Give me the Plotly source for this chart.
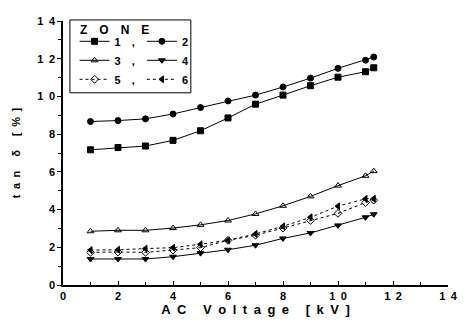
import plotly.graph_objects as go

voltage = [1, 2, 3, 4, 5, 6, 7, 8, 9, 10, 11, 11.3]
zone1 = [7.17, 7.29, 7.37, 7.67, 8.18, 8.86, 9.59, 10.07, 10.57, 11.02, 11.31, 11.52]
zone2 = [8.67, 8.72, 8.81, 9.07, 9.41, 9.76, 10.07, 10.50, 10.97, 11.49, 11.92, 12.09]
zone3 = [2.85, 2.90, 2.90, 3.02, 3.19, 3.42, 3.77, 4.20, 4.70, 5.27, 5.79, 6.04]
zone4 = [1.38, 1.38, 1.38, 1.50, 1.69, 1.87, 2.11, 2.47, 2.76, 3.16, 3.59, 3.75]
zone5 = [1.73, 1.75, 1.73, 1.85, 1.98, 2.37, 2.64, 3.02, 3.42, 3.80, 4.37, 4.50]
zone6 = [1.85, 1.87, 1.93, 1.98, 2.16, 2.37, 2.71, 3.11, 3.59, 4.18, 4.57, 4.58]

SP = "\u2002"
tick_vals = [0, 2, 4, 6, 8, 10, 12, 14]
tick_text = ["0", "2", "4", "6", "8", "1" + SP + "0", "1" + SP + "2", "1" + SP + "4"]


def spaced(s, sep=SP):
    return sep.join(list(s))


series = [
    ("1" + SP * 2 + ",", zone1, "square", "legend", "solid"),
    ("2", zone2, "circle", "legend2", "solid"),
    ("3" + SP * 2 + ",", zone3, "triangle-up-open", "legend", "solid"),
    ("4", zone4, "triangle-down", "legend2", "solid"),
    ("5" + SP * 2 + ",", zone5, "diamond-open", "legend", "dot"),
    ("6", zone6, "triangle-left", "legend2", "dot"),
]

fig = go.Figure()
for name, vals, sym, leg, dash in series:
    fig.add_trace(go.Scatter(
        x=voltage, y=vals, name=name, mode="lines+markers",
        line=dict(color="black", width=1, dash=dash),
        marker=dict(symbol=sym, size=6, color="black", line=dict(color="black", width=1)),
        legend=leg,
    ))

font = dict(family="Liberation Sans, Arial, sans-serif", color="black")
bold = dict(weight="bold", **font)
legend_common = dict(
    bgcolor="rgba(0,0,0,0)", borderwidth=0,
    font=dict(size=11, **bold), orientation="v",
    yanchor="top", xanchor="left", itemwidth=30, tracegroupgap=0,
)

fig.update_layout(
    width=457, height=319,
    margin=dict(l=55, r=11, t=7, b=42),
    paper_bgcolor="white", plot_bgcolor="white",
    font=font,
    xaxis=dict(
        range=[0, 14], tickvals=tick_vals, ticktext=tick_text,
        showgrid=False, zeroline=False, showline=True, linecolor="black", linewidth=1.5,
        ticks="inside", ticklen=4, tickcolor="black",
        minor=dict(dtick=1, ticks="inside", ticklen=3, tickcolor="black"),
        tickfont=dict(size=11, **bold),
        title=dict(text=spaced("AC Voltage [kV]"), font=dict(size=13, **bold), standoff=4),
    ),
    yaxis=dict(
        range=[0, 14], tickvals=tick_vals, ticktext=tick_text,
        showgrid=False, zeroline=False, showline=True, linecolor="black", linewidth=1.5,
        ticks="outside", ticklen=4, tickcolor="black",
        minor=dict(dtick=1, ticks="outside", ticklen=3, tickcolor="black"),
        tickfont=dict(size=11, **bold),
        title=dict(text=spaced("tan δ [%]"), font=dict(size=11, **bold), standoff=14),
    ),
    legend=dict(x=0.03, y=0.978, **legend_common),
    legend2=dict(x=0.205, y=0.978, **legend_common),
    shapes=[dict(type="rect", xref="paper", yref="paper", x0=0.018, x1=0.332, y0=0.728, y1=1.004,
                 line=dict(color="black", width=1))],
    annotations=[dict(text=spaced("ZONE", "\u2003"), xref="paper", yref="paper", x=0.04, y=1.0,
                      xanchor="left", yanchor="top", showarrow=False, font=dict(size=12, **bold))],
)

fig.write_html("out.html")
